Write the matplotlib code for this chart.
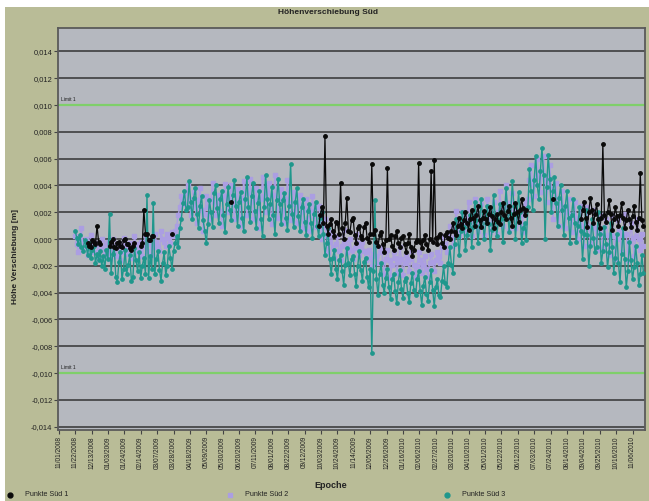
import numpy as np
import pandas as pd
import matplotlib
matplotlib.use("Agg")
import matplotlib.pyplot as plt
from matplotlib.patches import Rectangle
from matplotlib.lines import Line2D
from matplotlib.ticker import FuncFormatter

plt.rcParams['font.family'] = ['Liberation Sans', 'DejaVu Sans']

# ---------------- data (values in mm, converted to m) ----------------
start_date = "2008-11-22"
step = "2D"
N = np.nan

sued3 = [
    0.6, 0.1, -0.4, 0.3, -0.6, -0.9, -0.1, -0.5, -1.2, -0.3,
    -1.4, -0.8, -0.5, -1.8, -1.1, -1.6, -0.9, -2.0, -1.3, -2.2,
    -0.8, -1.5, 1.9, -2.5, -1.1, -0.6, -2.8, -3.2, -1.7, -1.0,
    -3.0, -2.2, -0.8, -2.6, -1.9, -1.2, -3.1, -2.8, -0.7, -1.6,
    -2.4, -1.0, -2.9, -2.0, -1.4, -2.6, 3.3, -2.9, -1.3, -2.2,
    2.7, -2.6, -1.5, -0.9, -2.3, -3.1, -1.8, -1.0, -2.7, -2.0,
    -0.5, -1.4, -2.2, -0.9, -0.3, 0.2, -0.6, 0.8, 1.5, 2.7,
    3.6, 2.2, 2.4, 4.3, 2.8, 1.5, 3.1, 3.8, 1.9, 0.8,
    2.5, 3.2, 1.4, 0.6, -0.3, 1.1, 2.9, 2.0, 0.9, 3.4,
    4.0, 2.3, 1.2, 3.0, 3.6, 1.8, 0.5, 2.6, 3.9, 2.2,
    1.4, 3.3, 4.4, 2.5, 1.0, 2.8, 3.5, 1.6, 0.6, 3.0,
    4.6, 2.4, 1.3, 3.2, 4.2, 2.1, 0.8, 2.7, 3.6, 1.5,
    0.2, 2.4, 4.8, 3.0, 1.5, 2.6, 3.9, 1.8, 0.4, 2.9,
    4.5, 2.6, 1.1, 2.9, 3.4, 1.6, 0.7, 2.5, 5.6, 1.9,
    0.9, 2.8, 3.8, 1.7, 0.6, 2.4, 3.0, 1.3, 0.3, 2.1,
    2.6, 1.2, 0.1, 1.9, 2.8, 1.0, 0.2, 1.6, 2.0, 0.4,
    -1.2, -0.3, 0.8, -1.5, -2.6, -1.4, -0.8, -2.2, -3.0, -1.6,
    -1.2, -2.4, -3.4, -1.9, -0.7, -1.8, -2.7, -1.5, -1.3, -2.6,
    -3.5, -2.0, -0.9, -2.3, -3.1, -1.7, -1.4, -2.8, -3.6, -2.2,
    -8.5, -2.4, 2.9, -3.0, -4.2, -2.6, -1.8, -3.4, -4.0, -2.9,
    -2.2, -3.6, -4.5, -3.0, -2.6, -3.9, -4.8, -3.2, -2.3, -3.7,
    -4.4, -3.1, -2.9, -4.0, -4.7, -3.3, -2.5, -3.8, -4.2, -3.0,
    -2.4, -3.9, -4.9, -3.5, -2.8, -4.1, -4.6, -3.2, -2.3, -3.8,
    -5.0, -3.6, -3.0, -4.2, -4.3, -3.1, -2.0, -3.3, -3.6, -1.8,
    -0.6, -1.9, -2.5, -0.4, 1.5, 0.2, -1.2, 0.6, 2.0, 0.9,
    -0.8, 0.3, 1.2, 1.8, -0.6, 0.9, 2.8, 1.4, -0.3, 1.0,
    3.0, 1.6, 0.0, 1.2, 2.5, 1.1, -0.8, 0.7, 3.3, 1.8,
    0.2, 1.3, 2.6, 1.5, -0.2, 1.6, 3.8, 2.2, 0.5, 1.9,
    4.3, 2.5, 0.0, 1.8, 3.5, 2.0, -0.3, 0.8, 1.2, -0.1,
    2.4, 5.2, 3.6, 2.2, 4.4, 6.2, 4.0, 3.0, 5.1, 6.8,
    4.8, 0.0, 3.9, 6.3, 4.5, 2.0, 3.6, 4.6, 2.7, 1.0,
    3.1, 4.0, 2.2, 0.3, 2.5, 3.6, 1.6, -0.3, 1.8, 3.0,
    1.2, -0.2, 1.0, 2.4, 0.6, -1.5, 0.4, 2.2, 0.3, -2.0,
    -0.5, 1.5, 0.1, -1.0, -0.6, 2.0, 0.4, -1.8, -0.9, 0.9,
    -0.4, -2.1, -1.0, 1.2, -0.6, -2.5, -1.4, 0.4, -1.8, -3.2,
    -1.1, 0.8, -1.5, -3.6, -2.4, -0.2, -1.6, -3.0, -2.1, -0.5,
    -1.8, -3.4, -2.6, -1.2, -2.5]

sued2 = [
    0.2, -0.4, -1.0, 0.0, 0.8, -0.6, -0.2, 0.0, -1.2, -0.5,
    0.3, -0.4, -1.0, -0.3, -0.4, -1.5, -0.8, 0.0, -0.6, -1.2,
    -0.4, -0.2, -1.5, -0.9, 0.0, -0.5, -1.3, -0.7, -0.4, -1.6,
    -1.0, 0.1, -0.5, -1.1, -0.7, -0.3, -1.4, -0.8, 0.2, -0.4,
    -1.0, -0.6, -0.2, -1.3, -0.5, 0.3, -0.9, -0.4, -0.1, -1.2,
    -0.6, 0.4, -0.2, -0.6, -0.9, 0.6, 0.0, -0.2, -0.5, 0.4,
    0.1, -0.3, 0.5, 0.2, 0.6, 1.0, 1.8, 2.4, 3.2, 2.9,
    2.6, 3.4, 4.0, 3.0, 1.8, 2.6, 3.5, 2.4, 1.2, 2.9,
    3.8, 2.2, 0.6, 1.9, 3.2, 2.4, 1.5, 3.0, 4.2, 2.8,
    1.8, 2.6, 3.3, 2.1, 1.0, 3.2, 4.1, 2.9, 2.0, 3.1,
    4.0, 2.6, 1.5, 2.8, 3.7, 2.3, 1.0, 3.1, 4.3, 2.9,
    1.8, 3.4, 4.5, 2.8, 1.5, 2.9, 3.8, 2.1, 0.8, 3.0,
    4.6, 3.2, 2.0, 3.4, 4.2, 2.5, 1.1, 3.3, 4.8, 3.1,
    1.6, 2.9, 3.7, 2.2, 1.2, 3.0, 4.4, 2.7, 1.4, 2.6,
    3.5, 2.1, 1.2, 2.5, 3.3, 2.0, 0.8, 2.2, 3.0, 1.6,
    0.6, 2.1, 3.2, 1.7, 0.9, 2.4, 2.5, 1.3, 0.0, 0.9,
    1.5, 0.2, -1.0, -0.2, 0.5, -0.6, -1.4, -0.4, 0.2, -0.9,
    -1.6, -0.5, 0.7, -0.2, -1.0, -0.6, 0.0, -0.8, -1.5, -0.7,
    0.4, -0.3, -1.2, -0.6, -0.2, -0.9, -1.6, -1.0, -0.8, -1.4,
    -2.0, -1.1, -0.5, -1.3, -1.8, -1.0, -0.6, -1.7, -2.6, -1.5,
    -0.8, -1.6, -2.8, -1.9, -1.0, -1.4, -2.5, -1.7, -0.6, -1.5,
    -2.7, -1.8, -1.2, -1.6, -2.4, -1.5, -0.9, -1.9, -2.8, -2.0,
    -1.0, -1.6, -2.5, -1.9, -1.3, -2.2, -2.8, -1.8, -1.1, -1.7,
    -2.4, -1.6, -1.0, -1.3, -1.8, -0.6, 0.2, -0.4, -1.0, 0.3,
    1.0, 0.1, -0.5, 0.8, 2.1, 1.2, 0.2, 1.0, 2.0, 1.3,
    0.5, 1.6, 2.8, 1.4, 0.2, 1.5, 3.0, 1.9, 0.6, 1.4,
    2.6, 1.6, 0.3, 1.8, 3.0, 1.9, 0.5, 1.7, 2.8, 1.5,
    0.4, 2.0, 3.6, 2.2, 1.0, 2.4, 4.0, 2.7, 0.6, 2.0,
    3.4, 2.2, 0.8, 1.5, 2.0, 1.2, 0.5, 1.8, 2.5, 2.8,
    3.0, 4.4, 5.5, 4.1, 3.2, 4.8, 6.0, 4.6, 3.5, 5.0,
    6.2, 4.5, 2.8, 4.2, 5.5, 3.8, 1.5, 3.0, 4.2, 2.6,
    1.0, 2.5, 3.6, 2.2, 0.8, 2.0, 3.0, 1.8, 0.5, 1.9,
    2.8, 1.6, 0.0, 1.2, 2.5, 1.0, -0.5, 1.1, 2.4, 0.9,
    -0.3, 1.0, 2.2, 0.8, -0.8, 0.6, 1.8, 0.4, -0.6, 0.8,
    1.5, 0.3, -1.2, 0.4, 1.8, 0.2, -1.5, 0.0, 1.4, 0.5,
    -1.0, 0.3, 1.9, 0.4, -1.6, -0.2, 1.2, 0.1, -1.3, 0.2,
    1.5, 0.0, -0.8, 0.4, -0.5]

sued1 = (
    [N, N, N, N, N, N, N, N, -0.3, -0.5,
     -0.6, -0.1, -0.2, -0.4, 1.0, -0.2, -0.4, N, N, N,
     N, N, -0.5, -0.2, 0.0, -0.6, -0.7, -0.3, -0.2, -0.5,
     -0.6, -0.1, 0.0, -0.4, -0.4, -0.7, -0.8, -0.5, -0.3, N,
     N, N, -0.5, -0.3, 2.2, 0.4, 0.4, -0.1, -0.1, 0.2,
     0.2, N, N, N, N, N, N, N, N, N,
     N, N, 0.4, N, N, N, N, N, N, N]
    + [N] * 30
    + [2.8] + [N] * 9
    + [N] * 40
    + [N, N, N, N, N, N, 1.0, 1.8, 2.4, 1.2,
       7.7, 1.0, 0.4, 1.1, 1.5, 0.6, 0.2, 1.3, 1.2, 0.4,
       4.2, 0.8, 0.0, 1.2, 3.1, 0.6, 0.5, 1.4, 1.6, 0.3,
       -0.3, 0.8, 1.0, 0.2, 0.0, 0.9, 1.2, 0.1, -0.2, 0.4,
       5.6, 0.4, 0.7, -0.2, -0.5, 0.3, 0.5, -0.4, -1.0, -0.1,
       5.3, 0.0, 0.3, -0.5, -0.8, 0.2, 0.6, -0.3, -0.6, 0.1,
       0.2, -0.4, -1.0, -0.3, 0.4, -0.6, -1.3, -0.8, -0.2, -0.1,
       5.7, -0.2, -0.7, -0.1, 0.3, -0.4, -0.8, 0.0, 5.1, -0.2,
       5.9, 0.1, -0.4, 0.2, 0.4, -0.3, -0.6, 0.3, 0.5, 0.1,
       0.0, 0.6, 1.2, 0.5, 0.3, 1.0, 1.6, 1.1, 0.8, 1.4,
       2.0, 1.2, 0.7, 1.5, 2.2, 1.6, 1.0, 1.8, 2.5, 1.4,
       0.9, 1.6, 2.1, 1.5, 1.2, 1.9, 2.4, 1.7, 0.8, 1.5,
       1.9, 1.3, 1.1, 2.0, 2.7, 1.8, 1.5, 2.1, 2.5, 1.6,
       1.0, 1.9, 2.7, 2.0, 1.3, 2.2, 3.0, 2.3, 1.8, 2.2]
    + [N] * 10
    + [N, N, N, N, N, N, 3.0, N, N, N]
    + [N] * 10
    + [N, N, N, N, 1.5, 2.2, 2.8, 1.6, 0.9, 2.0,
       3.1, 2.2, 1.2, 1.9, 2.6, 1.5, 0.8, 1.6, 7.1, 1.8,
       1.3, 2.0, 2.9, 1.9, 0.7, 1.5, 2.4, 1.7, 1.0, 1.8,
       2.7, 1.6, 0.8, 1.4, 2.2, 1.5, 0.9, 1.7, 2.5, 1.3,
       0.7, 1.6, 4.9, 1.4, 1.0])

tick_labels = ["11/01/2008", "11/22/2008", "12/13/2008", "01/03/2009", "01/24/2009",
               "02/14/2009", "03/07/2009", "03/28/2009", "04/18/2009", "05/09/2009",
               "05/30/2009", "06/20/2009", "07/11/2009", "08/01/2009", "08/22/2009",
               "09/12/2009", "10/03/2009", "10/24/2009", "11/14/2009", "12/05/2009",
               "12/26/2009", "01/16/2010", "02/06/2010", "02/27/2010", "03/20/2010",
               "04/10/2010", "05/01/2010", "05/22/2010", "06/12/2010", "07/03/2010",
               "07/24/2010", "08/14/2010", "09/04/2010", "09/25/2010", "10/16/2010",
               "11/06/2010"]
y_ticks = [-0.014, -0.012, -0.010, -0.008, -0.006, -0.004, -0.002, 0.0,
           0.002, 0.004, 0.006, 0.008, 0.010, 0.012, 0.014]
limit_value = 0.010
legend_labels = ["Punkte Süd 1", "Punkte Süd 2", "Punkte Süd 3"]

n = max(len(sued3), len(sued2), len(sued1))
dates = pd.date_range(start_date, periods=n, freq=step)
s1 = np.array(sued1, dtype=float) * 1e-3
s2 = np.array(sued2, dtype=float) * 1e-3
s3 = np.array(sued3, dtype=float) * 1e-3

# ---------------- styling ----------------
olive = "#b9bc97"
plot_bg = "#b5b8bf"
grid_c = "#4f5052"
black_c = "#0a0a0a"
purple_c = "#ab9ee2"
teal_c = "#1f978c"
green_c = "#7fcf6a"
colors = [black_c, purple_c, teal_c]
markers = ["o", "s", "o"]

W, H = 649, 501
fig = plt.figure(figsize=(W / 100, H / 100), dpi=100, facecolor="white")
fig.patches.append(Rectangle((5 / W, 0), 1 - 5 / W, 1 - 7 / H, transform=fig.transFigure,
                             facecolor=olive, edgecolor="none", zorder=-10))

ax = fig.add_axes([58 / W, 1 - 430 / H, (645 - 58) / W, (430 - 28) / H])
ax.set_facecolor(plot_bg)

for yv in y_ticks:
    ax.axhline(yv, color=grid_c, lw=1.4, zorder=1)

ax.axhline(limit_value, color=green_c, lw=1.6, zorder=2)
ax.axhline(-limit_value, color=green_c, lw=1.6, zorder=2)

ax.plot(dates[:len(s2)], s2, color=purple_c, lw=1.0, marker="s", ms=2.4, mec=purple_c, mfc=purple_c, zorder=3)
ax.plot(dates[:len(s3)], s3, color=teal_c, lw=1.0, marker="o", ms=2.4, mec=teal_c, mfc=teal_c, zorder=4)
ax.plot(dates[:len(s1)], s1, color=black_c, lw=0.9, marker="o", ms=2.5, mec=black_c, mfc=black_c, zorder=5)

tick_dates = pd.to_datetime(tick_labels, format="%m/%d/%Y")
ax.set_xticks(tick_dates)
ax.set_xticklabels(tick_labels, rotation=90, fontsize=4.7, color="#222222")
ax.set_xlim(pd.Timestamp("2008-10-31"), pd.Timestamp("2010-11-22"))
ax.set_ylim(-0.01425, 0.01575)
ax.set_yticks(y_ticks)
ax.yaxis.set_major_formatter(FuncFormatter(lambda v, p: f"{v:.3f}".replace(".", ",").replace("-0,000", "0,000")))
ax.tick_params(axis="y", labelsize=5.4, length=3, width=0.8, color="#444444", pad=1, labelcolor="#222222")
ax.tick_params(axis="x", length=3, width=0.8, color="#444444", pad=1.5)

for side, sp in ax.spines.items():
    sp.set_color("#5a5a5a")
    sp.set_linewidth(1.3)

ax.text(pd.Timestamp("2008-11-04"), limit_value + 0.0002, "Limit 1", fontsize=3.6, color="#222222",
        va="bottom", ha="left", zorder=6)
ax.text(pd.Timestamp("2008-11-04"), -limit_value + 0.0002, "Limit 1", fontsize=3.6, color="#222222",
        va="bottom", ha="left", zorder=6)

fig.text(328 / W, 1 - 12 / H, "Höhenverschiebung Süd", ha="center", va="center",
         fontsize=6, fontweight="bold", color="#222222")
fig.text(16 / W, 1 - 256 / H, "Höhe Verschiebung [m]", ha="center", va="center", rotation=90,
         fontsize=6, fontweight="bold", color="#222222")
fig.text(331 / W, 1 - 485 / H, "Epoche", ha="center", va="center",
         fontsize=6.5, fontweight="bold", color="#222222")

leg_x = [10, 230, 447]
leg_y = 1 - 495 / H
for xx, lab, c, m in zip(leg_x, legend_labels, colors, markers):
    fig.add_artist(Line2D([xx / W], [leg_y], transform=fig.transFigure, marker=m, ms=3.5,
                          color=c, mec=c, mfc=c, lw=0))
    fig.text((xx + 15) / W, leg_y, lab, ha="left", va="center", fontsize=5.2, color="#222222")

fig.savefig("out.png", dpi=100, facecolor=fig.get_facecolor())
